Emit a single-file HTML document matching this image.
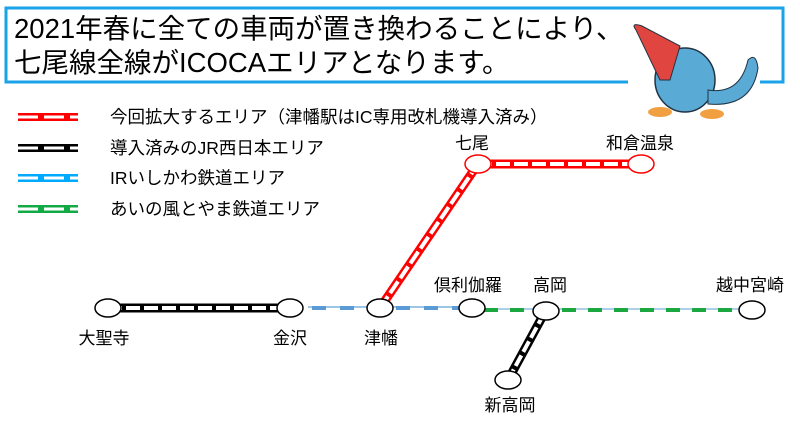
<!DOCTYPE html>
<html><head><meta charset="utf-8"><style>
body{margin:0;background:#fff;width:800px;height:424px;overflow:hidden}
svg text{font-family:"Liberation Sans","Noto Sans CJK JP",sans-serif;fill:#000}
</style></head><body>
<svg width="800" height="424" xmlns="http://www.w3.org/2000/svg">
<rect x="6" y="8" width="777" height="74" fill="none" stroke="#1aa3e8" stroke-width="3"/>
<rect x="628" y="78" width="132" height="8" fill="#fff"/>
<text x="14" y="38" font-size="27.5">2021年春に全ての車両が置き換わることにより、</text>
<text x="14" y="72" font-size="27.5">七尾線全線がICOCAエリアとなります。</text>
<!-- mascot -->
<g>
<ellipse cx="685" cy="80" rx="30" ry="32" fill="#5aaad6" stroke="#234" stroke-width="1.5"/>
<path d="M708 90 Q740 95 748 60 Q756 52 758 68 Q752 108 708 104Z" fill="#5aaad6" stroke="#234"/>
<path d="M636 30 Q630 22 642 26 L680 46 L670 80 L660 80Z" fill="#e0453f" stroke="#234"/>
<ellipse cx="660" cy="112" rx="12" ry="5" fill="#f0a040"/>
<ellipse cx="712" cy="114" rx="12" ry="5" fill="#f0a040"/>
</g>
<!-- legend -->
<g stroke-width="8">
<line x1="18" y1="117" x2="78" y2="117" stroke="#f00"/><line x1="18" y1="117" x2="78" y2="117" stroke="#fff" stroke-width="3" stroke-dasharray="20 6"/>
<line x1="18" y1="148" x2="78" y2="148" stroke="#000"/><line x1="18" y1="148" x2="78" y2="148" stroke="#fff" stroke-width="3" stroke-dasharray="20 6"/>
<line x1="18" y1="178" x2="78" y2="178" stroke="#0af"/><line x1="18" y1="178" x2="78" y2="178" stroke="#fff" stroke-width="3" stroke-dasharray="20 6"/>
<line x1="18" y1="209" x2="78" y2="209" stroke="#1a4"/><line x1="18" y1="209" x2="78" y2="209" stroke="#fff" stroke-width="3" stroke-dasharray="20 6"/>
</g>
<g font-size="17.5">
<text x="110" y="123">今回拡大するエリア（津幡駅はIC専用改札機導入済み）</text>
<text x="110" y="154">導入済みのJR西日本エリア</text>
<text x="110" y="184">IRいしかわ鉄道エリア</text>
<text x="110" y="215">あいの風とやま鉄道エリア</text>
</g>
<!-- tracks -->
<line x1="108" y1="308" x2="290" y2="308" stroke="#000" stroke-width="9"/>
<line x1="108" y1="308" x2="290" y2="308" stroke="#fff" stroke-width="4" stroke-dasharray="14 4"/>
<line x1="478" y1="164" x2="641" y2="164" stroke="#f00" stroke-width="9"/>
<line x1="478" y1="164" x2="641" y2="164" stroke="#fff" stroke-width="4" stroke-dasharray="14 4"/>
<line x1="380" y1="308" x2="478" y2="164" stroke="#f00" stroke-width="9"/>
<line x1="380" y1="308" x2="478" y2="164" stroke="#fff" stroke-width="4" stroke-dasharray="14 4"/>
<line x1="508" y1="380" x2="546" y2="310" stroke="#000" stroke-width="9"/>
<line x1="508" y1="380" x2="546" y2="310" stroke="#fff" stroke-width="4" stroke-dasharray="12 4"/>
<line x1="308" y1="307" x2="472" y2="307" stroke="#7ab3e0" stroke-width="1.5"/>
<line x1="312" y1="308" x2="472" y2="308" stroke="#5b9bd5" stroke-width="4" stroke-dasharray="14 14"/>
<line x1="472" y1="309" x2="752" y2="309" stroke="#7ab3e0" stroke-width="1.2"/>
<line x1="484" y1="310" x2="752" y2="310" stroke="#1ca840" stroke-width="4" stroke-dasharray="14 12"/>
<!-- stations -->
<g fill="#fff" stroke="#000" stroke-width="1.5">
<ellipse cx="108" cy="308" rx="13" ry="9"/>
<ellipse cx="290" cy="308" rx="13" ry="9"/>
<ellipse cx="380" cy="308" rx="13" ry="9"/>
<ellipse cx="472" cy="308" rx="13" ry="9"/>
<ellipse cx="546" cy="311" rx="13" ry="9"/>
<ellipse cx="752" cy="310" rx="13" ry="9"/>
<ellipse cx="508" cy="380" rx="13" ry="9"/>
<ellipse cx="478" cy="164" rx="13" ry="9" stroke="#f00"/>
<ellipse cx="641" cy="164" rx="13" ry="9" stroke="#f00"/>
</g>
<g font-size="17" text-anchor="middle">
<text x="104" y="344">大聖寺</text>
<text x="290" y="344">金沢</text>
<text x="381" y="344">津幡</text>
<text x="468" y="291">倶利伽羅</text>
<text x="550" y="291">高岡</text>
<text x="750" y="291">越中宮崎</text>
<text x="510" y="411">新高岡</text>
<text x="472" y="149">七尾</text>
<text x="640" y="149">和倉温泉</text>
</g>
</svg>
</body></html>
